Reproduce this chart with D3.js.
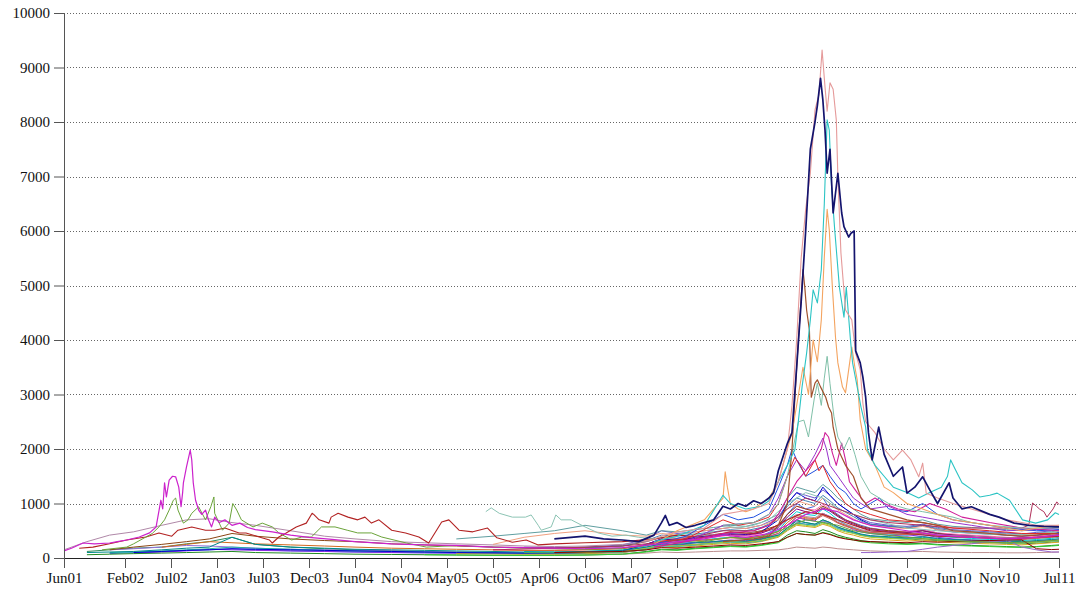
<!DOCTYPE html>
<html><head><meta charset="utf-8">
<script src="https://cdn.jsdelivr.net/npm/d3@7"></script>
<style>
body{margin:0;background:#fff}
svg{display:block}
</style></head>
<body><svg id="c" width="1084" height="592"></svg>
<script>
// ---------- DATA ----------
// x tick labels and the month (counted from Jun 2001) each one marks
const tickLabels = ["Jun01","Feb02","Jul02","Jan03","Jul03","Dec03","Jun04","Nov04","May05","Oct05","Apr06","Oct06","Mar07","Sep07","Feb08","Aug08","Jan09","Jul09","Dec09","Jun10","Nov10","Jul11"];
const tickMonths = [0,8,13,19,25,30,36,41,47,52,58,64,69,75,80,86,91,97,102,108,113,121];
const yTickValues = [0,1000,2000,3000,4000,5000,6000,7000,8000,9000,10000];

// detailed series: [month since Jun01, value]
const sMagenta = [[0,130],[1,180],[2.5,275],[4,260],[6,275],[7,300],[8.2,330],[9.6,385],[10.7,460],[11.4,570],[11.9,1060],[12.1,900],[12.3,1380],[12.5,1120],[12.8,1430],[13.2,1500],[13.6,1490],[14,1300],[14.3,940],[14.5,1200],[14.6,1380],[15,1670],[15.5,1980],[15.7,1800],[15.9,1380],[16.2,1060],[16.6,880],[17,800],[17.5,880],[17.9,700],[18.3,570],[18.7,750],[19.3,650],[20,700],[21,600],[22,640],[23,560],[24,520],[26,480],[28,420],[30,380],[33,340],[36,300],[40,260],[44,240],[48,230],[52,200],[56,190],[60,180],[64,170],[68,190],[72,250],[75,300],[78,350],[80,420],[83,380],[86,450],[88,600],[90,800],[92,900],[94,850],[96,700],[98,600],[102,500],[106,420],[110,380],[114,350],[118,380],[121,420]];
const sOlive = [[5,150],[8.2,200],[9,260],[10.3,385],[11,450],[11.7,570],[12.3,700],[12.8,880],[13.3,1060],[13.6,1100],[13.9,880],[14.6,640],[15.2,700],[15.7,820],[16.6,940],[17.5,700],[18.2,940],[18.6,1120],[18.7,820],[19.7,510],[20.6,640],[21.1,1000],[21.6,880],[22.2,700],[23.7,570],[24.9,640],[26,570],[26.7,460],[28.1,330],[29.2,385],[30.3,385],[31.6,570],[33.4,570],[35,510],[36.3,460],[37.8,460],[38.9,385],[41.7,275],[44.3,200],[48,230],[52,200],[56,180],[60,170],[64,160],[68,180],[72,260],[75,330],[78,300],[81,380],[84,350],[86,420],[88,560],[90,700],[92,650],[94,600],[96,500],[98,450],[102,380],[106,330],[110,300],[114,280],[118,300],[121,330]];
const sFirebrick = [[2,180],[3.8,200],[6,260],[8.2,330],[10.3,385],[11.7,460],[13.1,400],[13.9,510],[15.7,570],[17.5,510],[18.7,510],[20,550],[21.9,460],[22.8,460],[24.5,385],[25.7,330],[26,275],[26.7,385],[27.5,460],[28.6,570],[29.7,640],[30.4,820],[30.6,800],[31.3,700],[32.6,640],[32.9,750],[33.8,820],[35.1,750],[36.3,700],[37.1,750],[37.8,640],[38.6,700],[40,510],[41.6,460],[43.3,385],[44.6,275],[45.9,570],[46.3,660],[47.2,700],[48.3,510],[49.8,480],[51.4,550],[52.5,370],[54.5,290],[56.3,330],[57.9,240],[60,260],[64,280],[68,300],[72,350],[75,420],[78,380],[81,480],[84,450],[86,520],[88,700],[90,850],[92,800],[94,700],[96,600],[98,500],[102,450],[106,400],[110,380],[114,350],[118,380],[121,400]];
const sLightTeal = [[51.2,850],[51.8,920],[52.8,820],[54.5,750],[56.2,750],[57,790],[57.9,600],[58.3,510],[59.6,570],[60.2,790],[60.9,700],[62.2,700],[64,570],[65.4,460],[66.9,400],[68.4,420],[70,380],[72,350],[74,400],[76,450],[78,420],[80,600],[82,550],[84,600],[86,700],[88,1000],[90,1200],[92,1100],[94,900],[96,800],[98,700],[102,550],[106,500],[110,450],[114,420],[118,450],[121,480]];
const sNavy = [[60,350],[64,400],[66,350],[68,330],[70,300],[72,420],[73,650],[73.5,780],[74,600],[75,650],[76,560],[77,600],[78,650],[79,700],[80,950],[81,900],[82,1000],[83,950],[84,1050],[85,1000],[86,1100],[86.5,1200],[87,1600],[87.5,1850],[88,2100],[88.5,2300],[89,3500],[89.5,4700],[90,6000],[90.5,7500],[91,8000],[91.3,8300],[91.7,8800],[92,8400],[92.3,7850],[92.6,7060],[93,7500],[93.4,6330],[94,7060],[94.5,6330],[94.8,6080],[95.4,5890],[95.7,5960],[96.1,6000],[96.3,3800],[96.9,3580],[97.2,3320],[97.5,2950],[97.8,2300],[98.2,1800],[98.9,2400],[99.5,1900],[100.5,1500],[101.5,1670],[102,1190],[103,1300],[104,1490],[105,1250],[106,1000],[107.5,1380],[108,1100],[109,900],[110,940],[112,800],[113,750],[115,640],[117,600],[119,580],[121,570]];
const sRosy = [[70,300],[72,350],[74,450],[76,500],[78,550],[80,800],[82,850],[84,900],[86,1000],[87,1400],[88,2000],[88.5,2800],[89,4000],[89.5,5500],[90,6400],[90.5,7060],[91,8220],[91.5,8500],[91.9,9320],[92.3,8640],[92.6,8200],[93,8720],[93.4,8600],[93.8,8040],[94,7000],[94.4,5600],[95,4550],[95.8,4370],[96.3,3760],[96.9,3450],[97.2,2840],[97.5,2500],[98.5,2300],[99.5,2000],[100.5,1800],[101.5,1980],[102.5,1800],[103.5,1490],[104,1740],[104.5,1190],[106,1100],[108,1000],[110,900],[112,800],[114,700],[116,650],[118,600],[121,600]];
const sTurquoise = [[72,300],[75,400],[78,600],[80,1150],[81,1000],[83,900],[85,950],[86,1050],[87,1400],[88,1700],[88.8,1980],[89.2,2530],[89.6,3140],[90.1,3760],[90.5,4370],[90.8,4920],[91.3,4680],[91.8,5290],[92.2,6500],[92.6,8040],[92.9,7850],[93.2,6810],[93.6,6020],[94.2,4970],[94.8,4420],[95.1,4970],[95.6,4050],[95.9,3580],[96.5,3140],[97,2770],[97.5,2400],[97.7,1980],[98.5,1700],[99.5,1500],[100.5,1300],[102,1200],[103.5,1100],[105,1200],[106.5,1300],[107.3,1500],[107.7,1800],[108.3,1610],[109,1380],[110.1,1250],[110.9,1120],[112,1150],[112.8,1190],[114.4,1060],[116.1,700],[117.9,640],[119.5,700],[120.5,830],[121,800]];
const sSandy = [[72,250],[75,500],[78,700],[79,900],[80,1100],[80.3,1580],[80.6,1300],[81,1000],[82,900],[83,850],[84,900],[85,1000],[86,1100],[87,1400],[88,2000],[88.5,2300],[89,2800],[89.7,3500],[90.3,3000],[90.8,4000],[91.3,3600],[91.8,4370],[92.2,5520],[92.6,6400],[92.9,6020],[93.3,4970],[93.7,4050],[94,3580],[94.6,3140],[95,3030],[95.8,3870],[96.2,3500],[96.5,3270],[96.9,2530],[97.5,2000],[98.5,1700],[99.5,1300],[100.5,1200],[102,1000],[104,900],[106,800],[108,700],[110,650],[112,600],[114,550],[116,500],[118,550],[121,600]];
const sSienna = [[80,300],[84,350],[86,400],[87,600],[88,1000],[88.5,2000],[89,3500],[89.7,5290],[89.9,4970],[90.1,4550],[90.4,4180],[90.6,2950],[91,3210],[91.3,3270],[91.7,3140],[92.4,2950],[92.8,2770],[93.2,2660],[93.4,2400],[94,2000],[95,1700],[96,1500],[97,1100],[98,900],[100,800],[102,700],[104,650],[106,600],[108,500],[110,480],[112,450],[114,420],[116,400],[118,420],[121,450]];
const sPaleTeal = [[80,600],[84,650],[86,800],[87,1000],[88,1500],[88.6,2000],[89.2,2500],[89.8,2530],[90.3,2220],[90.9,2900],[91.3,3210],[91.8,2800],[92.2,3300],[92.6,3700],[93,3200],[93.5,2600],[94,2220],[94.8,2000],[95.5,2220],[96.2,1900],[97,1500],[98,1200],[100,1000],[102,900],[104,850],[106,800],[108,750],[110,650],[112,600],[116,550],[121,550]];
const sMagPink = [[72,200],[76,300],[80,450],[84,500],[86,600],[87,800],[88,1100],[89,1400],[90,1600],[91,1800],[91.8,2000],[92.3,2300],[92.8,2220],[93.3,1930],[93.8,1700],[94.5,2110],[95,1800],[95.5,1400],[96.5,1200],[97.5,1000],[98.5,1100],[99.5,1000],[101,900],[103,850],[105,1000],[107,900],[109,750],[112,650],[116,550],[121,500]];
const sRed = [[72,300],[76,350],[80,700],[82,600],[84,650],[86,750],[87,1000],[88,1500],[88.8,1850],[89.5,1670],[90,1500],[91,1800],[91.5,1600],[92,1700],[93,1400],[94,1200],[95,1000],[96,900],[98,800],[100,700],[104,650],[108,550],[112,500],[116,450],[121,450]];
const sMaroon = [[52,150],[60,180],[68,220],[74,300],[80,500],[84,500],[86,600],[88,900],[90,1100],[92,1000],[94,900],[96,800],[98,700],[100,650],[104,600],[108,550],[112,550],[116,550],[117,600],[117.5,1010],[118,950],[118.4,900],[119,850],[119.4,750],[120.2,900],[120.7,1030],[121,980]];
const sPurple = [[76,300],[80,600],[84,650],[86,800],[87,1100],[88,1500],[89,1800],[90,1600],[91,1900],[92,2200],[92.5,2000],[93,1700],[94,1500],[95,1300],[96,1100],[97,1000],[98,900],[100,950],[102,800],[104,750],[106,700],[108,650],[110,600],[114,500],[118,520],[121,550]];
const sBlue = [[72,250],[76,400],[80,800],[82,700],[84,750],[86,900],[87,1300],[88,1700],[88.5,2000],[89,1800],[90,1500],[91,1600],[92,1700],[93,1500],[94,1300],[95,1200],[96,1000],[97,900],[98,1000],[99,1100],[100,900],[102,850],[104,1000],[106,800],[108,700],[110,650],[114,550],[118,500],[121,520]];

// background series on a shared month grid (null = no quote yet)
const gridMonths = [0,3,6,9,12,15,18,21,24,28,32,36,40,44,48,52,56,60,64,68,71,73,75,77,79,81,83,85,87,88,89,90,91,92,93,94,95,96,97,98,100,102,104,106,108,110,112,114,116,118,120,121];
const _ = null;
const b01 = [_,120,150,180,200,260,300,380,250, 200,170,150,130,120,110,100,95,90,90,110, 150,220,260,240,300,320,300,340,420, 550,700,650,620,700,650,560,520,480,430,400, 380,350,330,320,300,290,280,270,260,270,290,300];
const b02 = [_,_,80,100,120,140,150,170,150, 130,120,110,100,95,90,85,80,80,85,100, 160,250,300,280,350,380,360,400,550, 800,1000,900,950,1100,900,800,700,650,600,550, 500,480,520,460,420,400,380,360,350,370,390,400];
const b03 = [_,_,_,90,110,130,160,150,140, 130,120,110,100,95,90,90,85,90,100,120, 200,260,230,280,300,330,320,360,450, 600,750,700,680,820,760,650,600,520,480,450, 420,400,430,380,350,330,320,300,290,310,330,350];
const b04 = [_,60,70,80,90,100,110,120,100, 90,80,70,65,60,55,50,50,50,55,70, 120,160,150,180,200,220,210,240,300, 420,500,480,450,520,480,420,380,350,320,300, 280,260,270,250,240,230,220,210,200,210,230,240];
const b05 = [_,_,150,170,200,230,220,200,180, 160,150,140,130,120,110,100,100,95,100,120, 180,230,220,250,280,300,290,320,400, 520,650,620,600,680,640,560,500,460,420,400, 380,360,400,350,330,320,300,290,280,300,320,330];
const b06 = [_,_,_,_,_,_,_,_,_, _,_,_,_,_,80,75,70,70,80,100, 160,200,190,220,250,270,260,300,380, 500,600,580,560,620,580,500,450,420,380,350, 330,310,330,300,280,270,260,250,240,260,280,290];
const b07 = [_,_,100,110,130,150,170,200,180, 160,140,130,120,110,100,95,90,90,95,110, 170,220,210,240,270,290,280,310,400, 520,640,620,600,660,620,540,500,460,420,390, 370,350,380,340,320,300,290,280,270,290,310,320];
const b08 = [_,_,_,_,_,_,_,_,_, _,_,_,_,_,_,150,140,140,150,180, 250,330,320,350,380,420,400,450,600, 800,950,900,880,980,900,780,700,640,580,540, 500,480,520,460,440,420,400,380,370,400,430,450];
const b09 = [_,_,_,_,_,_,_,_,_, _,_,_,_,_,_,_,200,190,200,240, 350,500,450,480,520,560,540,600,750, 1000,1200,1150,1100,1250,1150,1000,900,800,720,650, 600,580,620,560,520,500,480,460,440,470,500,520];
const b10 = [_,_,150,200,250,300,350,450,400, 350,320,300,260,240,220,200,190,180,190,220, 300,380,360,400,430,460,450,500,600, 800,950,900,850,950,880,780,700,640,580,540, 500,470,500,450,420,400,380,360,350,370,390,400];
const b11 = [_,_,_,_,_,_,_,_,_, _,_,_,_,_,_,_,120,110,120,150, 220,300,280,320,350,380,360,400,500, 700,850,800,780,900,820,700,620,560,500,460, 440,420,460,400,380,360,340,330,320,340,360,380];
const b12 = [_,_,_,_,_,_,_,_,_, _,_,_,_,_,_,_,_,_,60,70, 90,110,100,110,120,130,130,140,150, 170,200,190,180,200,190,170,160,150,140,130, 120,115,120,110,105,100,100,95,95,100,105,110];
const b13 = [_,_,_,100,120,140,150,170,160, 150,140,130,120,110,100,95,90,90,100,130, 250,350,320,380,420,450,430,480,700, 1000,1200,1100,1050,1300,1150,1000,900,800,700,620, 580,550,600,520,480,460,440,420,400,420,450,470];
const b14 = [_,_,_,_,_,_,_,_,_, _,_,_,_,60,55,50,50,50,55,70, 110,150,140,170,190,210,200,230,280, 380,450,430,420,470,440,390,360,330,300,280, 260,250,260,240,230,220,210,200,195,205,220,230];
const b15 = [_,_,_,_,200,250,300,280,260, 240,220,200,180,170,160,150,140,140,150,170, 230,300,290,320,340,370,360,400,480, 650,780,740,720,800,740,650,600,550,500,470, 450,430,460,420,400,380,370,360,350,370,390,400];
const b16 = [_,_,_,_,_,_,_,_,_, _,_,_,_,_,_,_,_,_,_,_, 250,350,330,360,400,430,420,460,560, 750,900,850,820,920,860,760,680,620,560,520, 480,460,500,440,420,400,380,370,360,380,410,430];
const b17 = [_,_,_,_,_,_,_,_,_, _,_,_,_,_,_,_,100,95,100,120, 180,230,220,250,270,300,290,320,400, 520,620,600,580,640,600,520,480,450,410,380, 360,340,360,330,310,300,290,280,270,290,310,320];
const b18 = [_,_,_,_,_,_,_,_,_, _,_,_,_,_,_,_,_,_,180,220, 320,420,400,440,480,520,500,560,700, 950,1100,1050,1000,1150,1050,920,840,760,680,620, 580,560,600,540,500,480,460,440,430,450,480,500];
const b19 = [_,_,_,_,_,_,_,_,_, _,_,_,_,_,_,_,_,_,_,_, _,_,_,_,_,_,300,350,450, 600,750,720,700,780,720,640,580,540,500,470, 450,430,450,410,390,380,360,350,340,360,380,390];
const b20 = [_,100,110,120,150,180,200,380,250, 200,180,160,150,140,130,120,110,110,120,140, 200,260,250,280,300,320,310,350,420, 550,680,650,620,700,650,570,520,480,440,410, 390,370,390,360,340,330,320,310,300,320,340,350];
const b21 = [_,_,_,_,_,_,_,_,_, _,_,_,_,_,_,_,_,_,_,_, _,_,_,_,_,_,_,_,_, _,_,_,_,_,_,_,_,_,100,100, 110,120,160,200,230,260,300,330,200,150,110,110];
const b22 = [_,_,_,_,_,_,_,_,_, _,_,_,_,_,_,_,_,100,110,120, 150,190,180,200,220,240,230,260,300, 380,450,430,420,460,430,380,350,330,310,300, 290,280,300,290,300,310,320,330,330,170,155,160];
const b23 = [150,300,420,480,600,700,720,650,600, 500,400,350,300,280,260,240,220,210,220,250, 300,380,360,400,430,460,450,480,560, 700,800,760,740,820,760,680,620,570,520,490, 470,450,470,430,410,400,380,370,360,380,400,410];
const b24 = [_,_,_,_,_,_,_,_,_, _,_,_,_,_,_,250,380,450,500,420, 400,450,420,480,520,560,540,600,700, 900,1050,1000,950,1100,1000,880,800,720,650,600, 560,540,580,520,490,470,450,430,420,440,470,490];
const b25 = [_,_,_,_,_,_,_,_,_, _,_,_,_,_,350,400,450,500,600,500, 420,500,480,520,560,600,580,650,800, 1100,1300,1250,1200,1350,1250,1100,1000,900,800,720, 680,650,700,620,580,560,540,520,500,520,550,570];

// ---------- STYLE ----------
const bgList = [b01,b02,b03,b04,b05,b06,b07,b08,b09,b10,b11,b12,b13,b14,b15,b16,b17,b18,b19,b20,b21,b22,b23,b24,b25];
const bgColors = ["#2E8B57","#4169E1","#8A2BE2","#228B22","#9370DB","#DAA520","#20B2AA","#FF69B4","#6A5ACD","#8B4513","#00CED1","#BC8F8F","#0000CD","#32CD32","#D2691E","#800080","#9ACD32","#4682B4","#CD5C5C","#008B8B","#9966CC","#8B0000","#B088A8","#F0A080","#5F9EA0"];
const detList = [sLightTeal,sFirebrick,sOlive,sMaroon,sBlue,sPurple,sRed,sMagPink,sPaleTeal,sSienna,sSandy,sTurquoise,sRosy,sNavy,sMagenta];
const detColors = ["#8CC4B4","#B22222","#6BA33A","#B0305A","#2050E0","#9932CC","#E02828","#D0209A","#7FC0A8","#A0522D","#F4A460","#2CC4C4","#E59A9A","#14146E","#CC22CC"];
const detWidths = [1,1.1,1,1,1,1,1,1.1,1,1.2,1.1,1.1,1.1,1.7,1.2];

// ---------- DRAW ----------
const svg = d3.select("#c");
const pLeft = 64, pTop = 13, pBottom = 558, pRight = 1059, gridRight = 1076;
const fontFam = '"Liberation Serif", "Times New Roman", Times, serif';
function toDate(m){
  const f = Math.floor(m);
  const d0 = new Date(2001, 5 + f, 1), d1 = new Date(2001, 6 + f, 1);
  return new Date(+d0 + (m - f) * (d1 - d0));
}
const tickDates = tickMonths.map(toDate);
const tickPx = tickMonths.map((m,i) => i === 0 ? pLeft : (i === tickMonths.length - 1 ? pRight : pLeft + 61 + 46 * (i - 1)));
const x = d3.scaleTime().domain(tickDates).range(tickPx);
const y = d3.scaleLinear().domain([0,10000]).range([pBottom, pTop]);

// grid
svg.append("g").selectAll("line").data(yTickValues.filter(v => v > 0)).join("line")
  .attr("x1", pLeft).attr("x2", gridRight)
  .attr("y1", d => Math.round(y(d)) + 0.5).attr("y2", d => Math.round(y(d)) + 0.5)
  .attr("stroke", "#666").attr("stroke-width", 1).attr("stroke-dasharray", "1,2");

const line = d3.line().defined(d => d[1] != null).x(d => x(toDate(d[0]))).y(d => y(d[1]));
const g = svg.append("g");
bgList.forEach((vals, i) => {
  const pts = gridMonths.map((m, j) => [m, vals[j]]);
  g.append("path").datum(pts).attr("d", line).attr("fill", "none")
    .attr("stroke", bgColors[i]).attr("stroke-width", 1).attr("stroke-linejoin", "round");
});
detList.forEach((pts, i) => {
  g.append("path").datum(pts).attr("d", line).attr("fill", "none")
    .attr("stroke", detColors[i]).attr("stroke-width", detWidths[i]).attr("stroke-linejoin", "round");
});

// axes
const ya = svg.append("g").attr("transform", `translate(${pLeft},0)`)
  .call(d3.axisLeft(y).tickValues(yTickValues).tickFormat(d3.format("d")).tickSize(10).tickSizeOuter(0).tickPadding(4));
ya.attr("font-family", null).attr("font-size", null);
ya.select(".domain").attr("stroke", "#555");
ya.selectAll(".tick line").attr("stroke", "#555");
ya.selectAll("text").style("font-size", "15px").style("font-family", fontFam).attr("fill", "#111");

const xa = svg.append("g").attr("transform", `translate(0,${pBottom})`)
  .call(d3.axisBottom(x).tickValues(tickDates).tickFormat((d,i) => tickLabels[i]).tickSize(10).tickSizeOuter(0).tickPadding(4));
xa.attr("font-family", null).attr("font-size", null);
xa.select(".domain").attr("stroke", "#222");
xa.selectAll(".tick line").attr("stroke", "#555");
xa.selectAll("text").style("font-size", "15px").style("font-family", fontFam).attr("fill", "#111");
</script></body></html>
